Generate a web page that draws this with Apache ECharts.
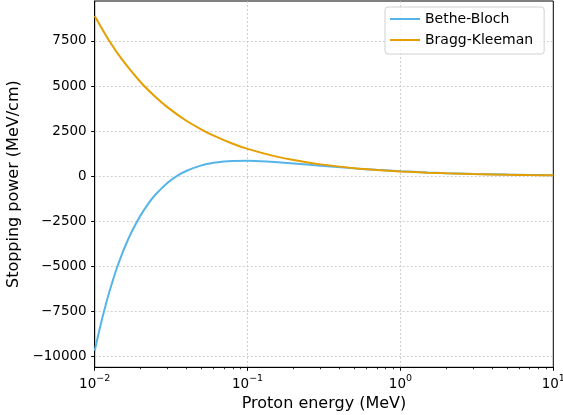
<!DOCTYPE html>
<html>
<head>
<meta charset="utf-8">
<script src="https://cdn.jsdelivr.net/npm/echarts@6/dist/echarts.min.js"></script>
<style>
  html, body { margin: 0; padding: 0; background: #fff; }
  #chart { width: 563px; height: 415px; }
</style>
</head>
<body>
<div id="chart"></div>
<script>
// proton energy samples (MeV) and the stopping power (MeV/cm)
var betheEnergy = [0.01, 0.0105, 0.011, 0.0115, 0.012, 0.0125, 0.0135, 0.014, 0.015, 0.016, 0.0175, 0.02, 0.0225, 0.025, 0.03, 0.035, 0.04, 0.05, 0.06, 0.07, 0.08, 0.1, 0.12, 0.15, 0.2, 0.3, 0.5, 0.7, 1, 1.5, 2, 3, 5, 7, 10];
var betheValues = [-9700, -8900, -8170, -7520, -6930, -6400, -5480, -5080, -4390, -3800, -3080, -2170, -1514, -1027, -371, 33, 295, 591, 735, 806, 838, 848, 828, 781, 700, 575, 426, 343, 268, 200, 162, 119, 79, 60, 45];

var braggEnergy = [0.01, 0.0125, 0.015, 0.02, 0.025, 0.03, 0.04, 0.05, 0.06, 0.08, 0.1, 0.15, 0.2, 0.3, 0.5, 0.7, 1, 1.5, 2, 3, 5, 7, 10];
var braggValues = [8890, 7485, 6510, 5210, 4390, 3815, 3055, 2580, 2240, 1793, 1510, 1105, 885, 648, 437, 336, 256, 188, 150, 110, 74, 57, 43];

var yTicks = [-10000, -7500, -5000, -2500, 0, 2500, 5000, 7500];
var xMinorTicks = [0.02, 0.03, 0.04, 0.05, 0.06, 0.07, 0.08, 0.09,
                   0.2, 0.3, 0.4, 0.5, 0.6, 0.7, 0.8, 0.9,
                   2, 3, 4, 5, 6, 7, 8, 9];

var FONT = "DejaVu Sans";
var LINE_ICON = "path://M0,0H30V2H0Z";

function pairs(xs, ys) {
  return xs.map(function (x, i) { return [x, ys[i]]; });
}

var chart = echarts.init(document.getElementById("chart"));

var option = {
  animation: false,
  backgroundColor: "#fff",
  textStyle: { fontFamily: FONT, color: "#000" },
  grid: {
    left: 94.7,
    right: 9.7,
    top: 1,
    bottom: 47.7,
    outerBoundsMode: "none",
    containLabel: false,
    show: true,
    borderColor: "#000",
    borderWidth: 1
  },
  legend: {
    orient: "vertical",
    left: 385,
    top: 7,
    padding: [5, 11, 7, 5],
    itemWidth: 30,
    itemHeight: 14,
    itemGap: 7,
    itemTextGap: 11,
    icon: LINE_ICON,
    symbolKeepAspect: true,
    backgroundColor: "rgba(255,255,255,0.8)",
    borderColor: "#d0d0d0",
    borderWidth: 1,
    borderRadius: 3,
    textStyle: { fontFamily: FONT, fontSize: 14, color: "#000" },
    data: ["Bethe-Bloch", "Bragg-Kleeman"]
  },
  xAxis: [
    {
      type: "log",
      logBase: 10,
      min: 0.01,
      max: 10,
      name: "Proton energy (MeV)",
      nameLocation: "middle",
      nameGap: 26,
      nameTextStyle: { fontFamily: FONT, fontSize: 16, color: "#000" },
      axisLine: { show: true, onZero: false, lineStyle: { color: "#000", width: 1 } },
      axisTick: { show: true, inside: false, length: 3.5, lineStyle: { color: "#000", width: 1 } },
      axisLabel: {
        margin: 6,
        showMinLabel: true,
        showMaxLabel: true,
        formatter: function (v) {
          var p = Math.round(Math.log10(v));
          var s = p < 0 ? "\u2212" + (-p) : String(p);
          return "{b|10}{s|" + s + "}";
        },
        rich: {
          b: { fontFamily: FONT, fontSize: 13.5, color: "#000", lineHeight: 18, verticalAlign: "bottom" },
          s: { fontFamily: FONT, fontSize: 9.5, color: "#000", lineHeight: 18, verticalAlign: "top" }
        }
      },
      splitLine: {
        show: true,
        showMinLine: false,
        showMaxLine: false,
        lineStyle: { color: "#c4c4c4", width: 0.8, type: [2, 2] }
      }
    },
    {
      type: "log",
      logBase: 10,
      min: 0.01,
      max: 10,
      position: "bottom",
      axisLine: { show: false, onZero: false },
      axisLabel: { show: false },
      splitLine: { show: false },
      axisTick: {
        show: true,
        inside: false,
        length: 2,
        customValues: xMinorTicks,
        lineStyle: { color: "#000", width: 0.8 }
      }
    }
  ],
  yAxis: {
    type: "value",
    min: -10620,
    max: 9720,
    name: "Stopping power (MeV/cm)",
    nameLocation: "middle",
    nameGap: 70,
    nameTextStyle: { fontFamily: FONT, fontSize: 16, color: "#000" },
    axisLine: { show: true, onZero: false, lineStyle: { color: "#000", width: 1 } },
    axisTick: { show: true, inside: false, length: 3.5, customValues: yTicks, lineStyle: { color: "#000", width: 1 } },
    axisLabel: {
      margin: 8,
      fontFamily: FONT,
      fontSize: 13.5,
      color: "#000",
      customValues: yTicks,
      formatter: function (v) { return String(v).replace("-", "\u2212"); }
    },
    splitLine: { show: true, lineStyle: { color: "#c4c4c4", width: 0.8, type: [2, 2] } }
  },
  series: [
    {
      name: "Bethe-Bloch",
      type: "line",
      xAxisIndex: 0,
      symbol: "none",
      smooth: 0.3,
      lineStyle: { color: "#56B4E9", width: 2 },
      itemStyle: { color: "#56B4E9" },
      data: pairs(betheEnergy, betheValues)
    },
    {
      name: "Bragg-Kleeman",
      type: "line",
      xAxisIndex: 0,
      symbol: "none",
      smooth: 0.3,
      lineStyle: { color: "#E69F00", width: 2 },
      itemStyle: { color: "#E69F00" },
      data: pairs(braggEnergy, braggValues)
    }
  ]
};

chart.setOption(option);
</script>
</body>
</html>
